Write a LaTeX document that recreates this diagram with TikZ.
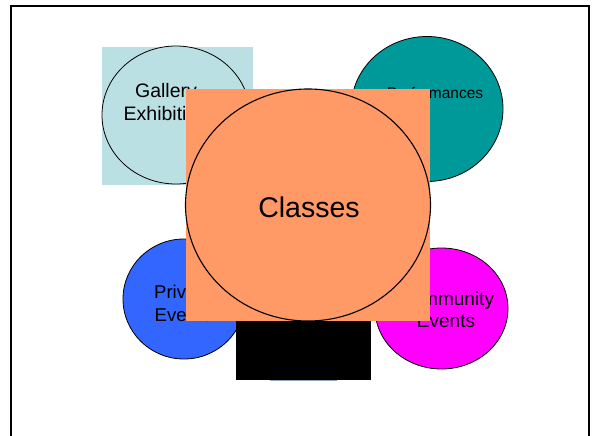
\documentclass[tikz,border=0pt]{standalone}
\usepackage{fontspec}
\setmainfont{Liberation Sans}
\usetikzlibrary{shapes.geometric}
\definecolor{galblue}{HTML}{BBE0E3}
\definecolor{perfteal}{HTML}{009999}
\definecolor{privblue}{HTML}{3366FF}
\definecolor{commag}{HTML}{FF00FF}
\definecolor{classorange}{HTML}{FF9966}
\definecolor{hiddenblue}{HTML}{8FA6BE}
\tikzset{
  bubble/.style={ellipse, draw=black, line width=0.8pt, inner sep=0pt},
  sqbox/.style={rectangle, draw=none, inner sep=0pt, anchor=north west},
  lbl/.style={anchor=base, inner sep=0pt, text=black},
}
\begin{document}
\begin{tikzpicture}[x=1pt,y=-1pt]
\useasboundingbox (0,0) rectangle (592,436);
\fill[white] (0,0) rectangle (592,436);
% outer frame
\coordinate (fbl) at (10.5,440);
\coordinate (ftl) at (10.5,6.5);
\coordinate (ftr) at (588.5,6.5);
\coordinate (fbr) at (588.5,440);
\draw[line width=2pt] (fbl) -- (ftl) -- (ftr) -- (fbr);
% Gallery Exhibition
\node[sqbox, fill=galblue, minimum width=151pt, minimum height=138pt] (galsq) at (102,47) {};
\node[bubble, fill=galblue, minimum width=148pt, minimum height=138pt] (gal) at (176,115) {};
\node[lbl, font=\fontsize{19.5}{23}\selectfont] (galA) at (166,98) {Gallery};
\node[lbl, font=\fontsize{19.5}{23}\selectfont] (galB) at (166,121) {Exhibition};
% Performances
\node[bubble, fill=perfteal, minimum width=152pt, minimum height=145pt] (perf) at (427,109) {};
\node[lbl, font=\fontsize{15.5}{19}\selectfont] (perfA) at (435,99) {Performances};
% Private Events
\node[bubble, fill=privblue, minimum width=122pt, minimum height=120pt] (priv) at (184,299) {};
\node[lbl, font=\fontsize{18.5}{22}\selectfont] (privA) at (183,298) {Private};
\node[lbl, font=\fontsize{18.5}{22}\selectfont] (privB) at (183,321) {Events};
% Community Events
\node[bubble, fill=commag, minimum width=133pt, minimum height=121pt] (comm) at (441.5,308.5) {};
\node[lbl, font=\fontsize{19}{22}\selectfont] (commA) at (446,305) {Community};
\node[lbl, font=\fontsize{19}{22}\selectfont] (commB) at (446,327) {Events};
% hidden shape and black box
\node[sqbox, fill=hiddenblue, minimum width=67pt, minimum height=50pt] (hid) at (270,331) {};
\node[sqbox, fill=black, minimum width=135pt, minimum height=65pt] (blk) at (236,315) {};
% Classes
\node[sqbox, fill=classorange, minimum width=244.5pt, minimum height=232pt] (clsq) at (185.6,89) {};
\node[bubble, fill=classorange, line width=1.1pt, minimum width=245pt, minimum height=232pt] (cls) at (308,205) {};
\node[lbl, font=\fontsize{28.5}{32}\selectfont] (clsA) at (309,217) {Classes};
\end{tikzpicture}
\end{document}
